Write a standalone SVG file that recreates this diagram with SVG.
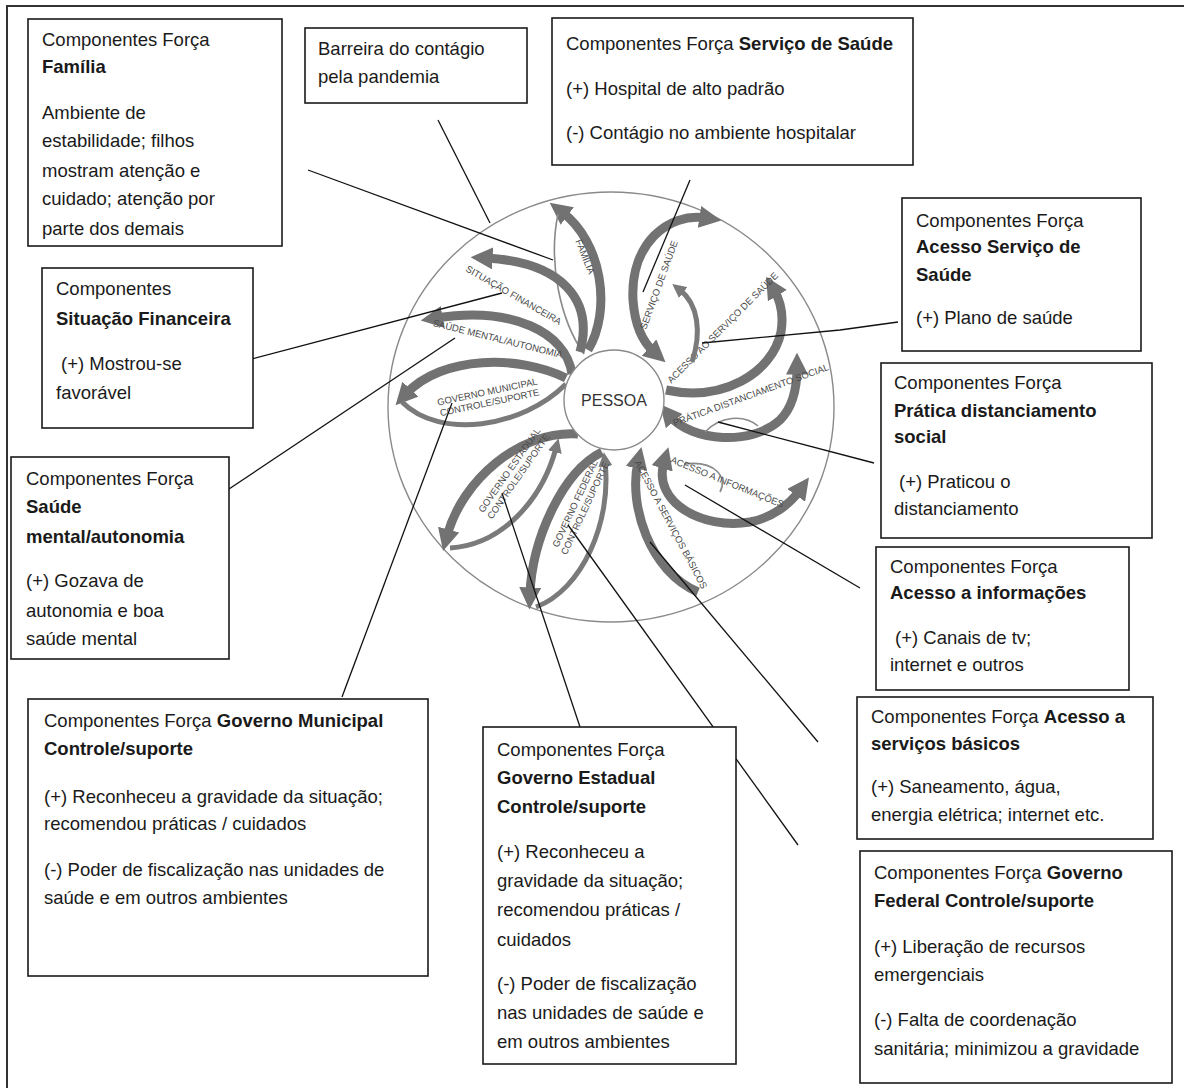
<svg xmlns="http://www.w3.org/2000/svg" width="1184" height="1088" viewBox="0 0 1184 1088">
<defs>
<style>
.frame{fill:none;stroke:#333;stroke-width:2}
.box{fill:#fff;stroke:#1a1a1a;stroke-width:1.6}
.t{font-family:"Liberation Sans",Arial,sans-serif;font-size:18.5px;fill:#1a1a1a}
.b{font-weight:bold}
.ln{stroke:#111;stroke-width:1.3;fill:none}
.th{fill:none;stroke:#727272;stroke-width:9}
.md{fill:none;stroke:#7a7a7a;stroke-width:5}
.tn{fill:none;stroke:#8a8a8a;stroke-width:1.6}
.lb{font-family:"Liberation Sans",Arial,sans-serif;font-size:9.5px;fill:#4a4a4a;text-anchor:middle}
</style>
<marker id="ah" viewBox="0 0 10 10" refX="3" refY="5" markerWidth="22" markerHeight="22" markerUnits="userSpaceOnUse" orient="auto-start-reverse">
<path d="M0,0 L10,5 L0,10 Z" fill="#727272"/>
</marker>
<marker id="as" viewBox="0 0 10 10" refX="3" refY="5" markerWidth="14" markerHeight="14" markerUnits="userSpaceOnUse" orient="auto-start-reverse">
<path d="M0,0 L10,5 L0,10 Z" fill="#7a7a7a"/>
</marker>
</defs>
<rect width="1184" height="1088" fill="#fff"/>
<rect class="frame" x="7" y="6" width="1200" height="1110"/>

<g id="centro">
<ellipse cx="611" cy="407" rx="223" ry="215" fill="none" stroke="#8a8a8a" stroke-width="1.4"/>
<!-- Família -->
<path class="th" d="M588,350 C612,310 602,242 562,212" marker-end="url(#ah)"/>
<path class="tn" d="M558,214 C548,262 560,320 584,354"/>
<text class="lb" transform="translate(582,258) rotate(68)">FAMÍLIA</text>
<!-- Situação financeira -->
<path class="th" d="M580,352 C594,300 562,262 486,258" marker-end="url(#ah)"/>
<text class="lb" transform="translate(512,298) rotate(30)">SITUAÇÃO FINANCEIRA</text>
<!-- Saúde mental -->
<path class="th" d="M572,374 C566,332 512,306 436,318" marker-end="url(#ah)"/>
<text class="lb" transform="translate(497,342) rotate(14)">SAÚDE MENTAL/AUTONOMIA</text>
<!-- Governo municipal -->
<path class="th" d="M566,378 C520,355 442,355 406,394" marker-end="url(#ah)"/>
<path class="md" d="M402,402 C440,440 522,428 566,384"/>
<text class="lb" transform="translate(488,395) rotate(-12)"><tspan x="0" y="0">GOVERNO MUNICIPAL</tspan><tspan x="0" y="11">CONTROLE/SUPORTE</tspan></text>
<!-- Governo estadual -->
<path class="th" d="M578,434 C520,430 462,480 447,536" marker-end="url(#ah)"/>
<path class="md" d="M450,548 C502,545 542,500 556,448" marker-end="url(#as)"/>
<text class="lb" transform="translate(512,472) rotate(-55)"><tspan x="0" y="0">GOVERNO ESTADUAL</tspan><tspan x="0" y="11">CONTROLE/SUPORTE</tspan></text>
<!-- Governo federal -->
<path class="th" d="M602,452 C562,472 532,540 530,594" marker-end="url(#ah)"/>
<path class="md" d="M536,607 C582,590 612,522 605,462" marker-end="url(#as)"/>
<text class="lb" transform="translate(578,505) rotate(-65)"><tspan x="0" y="0">GOVERNO FEDERAL</tspan><tspan x="0" y="11">CONTROLE/SUPORTE</tspan></text>
<!-- Acesso a serviços básicos -->
<path class="th" d="M698,592 C650,572 628,505 638,462" marker-end="url(#ah)"/>
<text class="lb" transform="translate(668,526) rotate(62)">ACESSO A SERVIÇOS BÁSICOS</text>
<!-- Acesso a informações -->
<path class="th" d="M664,462 C652,502 702,530 750,522 C772,518 790,504 800,490" marker-start="url(#ah)" marker-end="url(#ah)"/>
<path class="tn" d="M684,464 C716,460 728,478 720,492"/>
<text class="lb" transform="translate(726,485) rotate(22)">ACESSO A INFORMAÇÕES</text>
<!-- Prática distanciamento social -->
<path class="th" d="M670,416 C692,442 752,446 780,420 C794,406 797,386 797,368" marker-start="url(#ah)" marker-end="url(#ah)"/>
<path class="tn" d="M705,432 C720,416 744,414 758,426"/>
<text class="lb" transform="translate(752,398) rotate(-20)">PRÁTICA DISTANCIAMENTO SOCIAL</text>
<!-- Acesso ao serviço de saúde -->
<path class="th" d="M666,390 C722,402 772,374 781,332 C784,314 780,300 774,290" marker-end="url(#ah)"/>
<text class="lb" transform="translate(725,330) rotate(-45)">ACESSO AO SERVIÇO DE SAÚDE</text>
<!-- Serviço de saúde -->
<path class="th" d="M706,218 C668,212 630,244 633,300 C635,328 645,344 654,352" marker-start="url(#ah)" marker-end="url(#ah)"/>
<path class="md" d="M692,362 C702,332 698,304 680,290" marker-end="url(#as)"/>
<text class="lb" transform="translate(662,286) rotate(-70)">SERVIÇO DE SAÚDE</text>
<!-- Pessoa -->
<circle cx="614" cy="400" r="50" fill="#fff" stroke="#8a8a8a" stroke-width="1.4"/>
<text x="614" y="406" text-anchor="middle" font-family="'Liberation Sans',Arial,sans-serif" font-size="16" fill="#333">PESSOA</text>
</g>

<g id="connectors">
<line class="ln" x1="308" y1="170" x2="553" y2="260"/>
<line class="ln" x1="438" y1="120" x2="490" y2="223"/>
<line class="ln" x1="690" y1="180" x2="643" y2="292"/>
<polyline class="ln" points="898,322 840,330 702,343"/>
<line class="ln" x1="874" y1="463" x2="718" y2="422"/>
<line class="ln" x1="860" y1="588" x2="685" y2="485"/>
<line class="ln" x1="818" y1="742" x2="650" y2="542"/>
<line class="ln" x1="798" y1="845" x2="568" y2="525"/>
<line class="ln" x1="580" y1="727" x2="502" y2="493"/>
<line class="ln" x1="342" y1="697" x2="452" y2="403"/>
<line class="ln" x1="229" y1="489" x2="455" y2="338"/>
<line class="ln" x1="225" y1="366" x2="502" y2="293"/>
</g>

<g id="familia">
<rect class="box" x="28" y="19" width="254" height="227"/>
<text class="t" x="42" y="46">Componentes Força</text>
<text class="t b" x="42" y="73">Família</text>
<text class="t" x="42" y="119">Ambiente de</text>
<text class="t" x="42" y="147">estabilidade; filhos</text>
<text class="t" x="42" y="177">mostram atenção e</text>
<text class="t" x="42" y="205">cuidado; atenção por</text>
<text class="t" x="42" y="235">parte dos demais</text>
</g>

<g id="barreira">
<rect class="box" x="305" y="28" width="222" height="75"/>
<text class="t" x="318" y="55">Barreira do contágio</text>
<text class="t" x="318" y="83">pela pandemia</text>
</g>

<g id="servico-saude">
<rect class="box" x="552" y="18" width="361" height="147"/>
<text class="t" x="566" y="50">Componentes Força <tspan class="b">Serviço de Saúde</tspan></text>
<text class="t" x="566" y="95">(+) Hospital de alto padrão</text>
<text class="t" x="566" y="139">(-) Contágio no ambiente hospitalar</text>
</g>

<g id="acesso-servico-saude">
<rect class="box" x="902" y="198" width="239" height="153"/>
<text class="t" x="916" y="227">Componentes Força</text>
<text class="t b" x="916" y="253">Acesso Serviço de</text>
<text class="t b" x="916" y="281">Saúde</text>
<text class="t" x="916" y="324">(+) Plano de saúde</text>
</g>

<g id="pratica-distanciamento">
<rect class="box" x="881" y="363" width="271" height="175"/>
<text class="t" x="894" y="389">Componentes Força</text>
<text class="t b" x="894" y="417">Prática distanciamento</text>
<text class="t b" x="894" y="443">social</text>
<text class="t" x="899" y="488">(+) Praticou o</text>
<text class="t" x="894" y="515">distanciamento</text>
</g>

<g id="acesso-informacoes">
<rect class="box" x="876" y="547" width="253" height="143"/>
<text class="t" x="890" y="573">Componentes Força</text>
<text class="t b" x="890" y="599">Acesso a informações</text>
<text class="t" x="895" y="644">(+) Canais de tv;</text>
<text class="t" x="890" y="671">internet e outros</text>
</g>

<g id="acesso-servicos-basicos">
<rect class="box" x="857" y="697" width="296" height="142"/>
<text class="t" x="871" y="723">Componentes Força <tspan class="b">Acesso a</tspan></text>
<text class="t b" x="871" y="750">serviços básicos</text>
<text class="t" x="871" y="793">(+) Saneamento, água,</text>
<text class="t" x="871" y="821">energia elétrica; internet etc.</text>
</g>

<g id="governo-federal">
<rect class="box" x="860" y="851" width="312" height="232"/>
<text class="t" x="874" y="879">Componentes Força <tspan class="b">Governo</tspan></text>
<text class="t b" x="874" y="907">Federal Controle/suporte</text>
<text class="t" x="874" y="953">(+) Liberação de recursos</text>
<text class="t" x="874" y="981">emergenciais</text>
<text class="t" x="874" y="1026">(-) Falta de coordenação</text>
<text class="t" x="874" y="1055">sanitária; minimizou a gravidade</text>
</g>

<g id="situacao-financeira">
<rect class="box" x="42" y="268" width="211" height="160"/>
<text class="t" x="56" y="295">Componentes</text>
<text class="t b" x="56" y="325">Situação Financeira</text>
<text class="t" x="61" y="370">(+) Mostrou-se</text>
<text class="t" x="56" y="399">favorável</text>
</g>

<g id="saude-mental">
<rect class="box" x="11" y="457" width="218" height="202"/>
<text class="t" x="26" y="485">Componentes Força</text>
<text class="t b" x="26" y="513">Saúde</text>
<text class="t b" x="26" y="543">mental/autonomia</text>
<text class="t" x="26" y="587">(+) Gozava de</text>
<text class="t" x="26" y="617">autonomia e boa</text>
<text class="t" x="26" y="645">saúde mental</text>
</g>

<g id="governo-municipal">
<rect class="box" x="28" y="699" width="400" height="277"/>
<text class="t" x="44" y="727">Componentes Força <tspan class="b">Governo Municipal</tspan></text>
<text class="t b" x="44" y="755">Controle/suporte</text>
<text class="t" x="44" y="803">(+) Reconheceu a gravidade da situação;</text>
<text class="t" x="44" y="830">recomendou práticas / cuidados</text>
<text class="t" x="44" y="876">(-) Poder de fiscalização nas unidades de</text>
<text class="t" x="44" y="904">saúde e em outros ambientes</text>
</g>

<g id="governo-estadual">
<rect class="box" x="483" y="727" width="253" height="337"/>
<text class="t" x="497" y="756">Componentes Força</text>
<text class="t b" x="497" y="784">Governo Estadual</text>
<text class="t b" x="497" y="813">Controle/suporte</text>
<text class="t" x="497" y="858">(+) Reconheceu a</text>
<text class="t" x="497" y="887">gravidade da situação;</text>
<text class="t" x="497" y="916">recomendou práticas /</text>
<text class="t" x="497" y="946">cuidados</text>
<text class="t" x="497" y="990">(-) Poder de fiscalização</text>
<text class="t" x="497" y="1019">nas unidades de saúde e</text>
<text class="t" x="497" y="1048">em outros ambientes</text>
</g>
</svg>
